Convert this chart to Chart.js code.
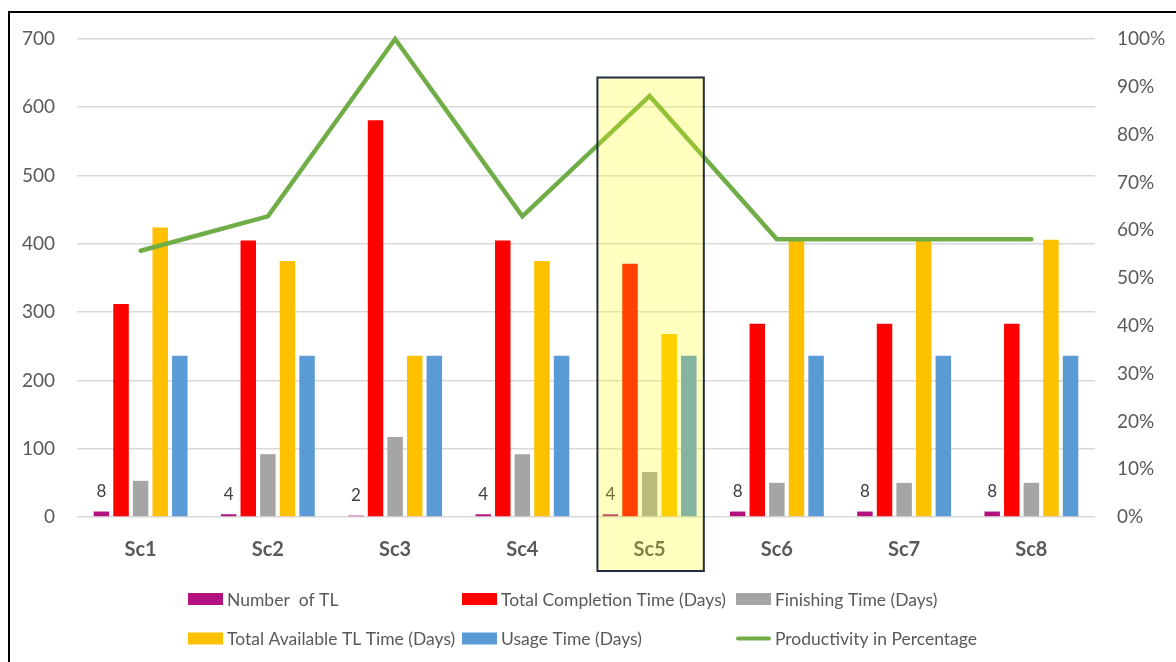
<!DOCTYPE html>
<html>
<head>
<meta charset="utf-8">
<script src="https://cdn.jsdelivr.net/npm/chart.js@4.4.1/dist/chart.umd.min.js"></script>
<style>
  html, body { margin: 0; padding: 0; background: #ffffff; overflow: hidden; }
  #wrap { position: relative; width: 1176px; height: 662px; }
  #chart { position: absolute; left: 0; top: 0; }
  /* outer frame of the chart object (only top and left edges fall inside the view) */
  #frame { position: absolute; left: 8px; top: 11px; width: 2000px; height: 2000px;
           border: 2px solid #000; pointer-events: none; }
</style>
</head>
<body>
<div id="wrap">
  <canvas id="chart" width="1176" height="662"></canvas>
  <div id="frame"></div>
</div>
<script>
// Scenario categories
const categories = ['Sc1', 'Sc2', 'Sc3', 'Sc4', 'Sc5', 'Sc6', 'Sc7', 'Sc8'];

// Series values (left axis, counts / days)
const numberOfTL      = [8, 4, 2, 4, 4, 8, 8, 8];
const totalCompletion = [312, 405, 581, 405, 371, 283, 283, 283];
const finishingTime   = [53, 92, 117, 92, 66, 50, 50, 50];
const totalAvailable  = [424, 375, 236, 375, 268, 406, 406, 406];
const usageTime       = [236, 236, 236, 236, 236, 236, 236, 236];

// Series values (right axis, percent)
const productivity    = [55.7, 62.9, 100, 62.9, 88.1, 58.1, 58.1, 58.1];

// Tick values
const countTicks   = [0, 100, 200, 300, 400, 500, 600, 700];
const percentTicks = [0, 10, 20, 30, 40, 50, 60, 70, 80, 90, 100];

// Scenario that is boxed and highlighted
const highlighted = 'Sc5';

const FONT = 'Lato, "Open Sans", "Liberation Sans", sans-serif';
const TEXT = '#595959';

// Labels above the "Number of TL" bars
const barValueLabels = {
  id: 'barValueLabels',
  afterDatasetsDraw(chart) {
    const ctx = chart.ctx;
    const meta = chart.getDatasetMeta(0);
    ctx.save();
    ctx.font = '17px ' + FONT;
    ctx.fillStyle = '#404040';
    ctx.textAlign = 'center';
    ctx.textBaseline = 'middle';
    meta.data.forEach((bar, i) => {
      ctx.fillText(String(numberOfTL[i]), bar.x, bar.y - 20);
    });
    ctx.restore();
  }
};

// Two-row legend laid out on a fixed column grid
const gridLegend = {
  id: 'gridLegend',
  afterDraw(chart, args, opts) {
    const ctx = chart.ctx;
    ctx.save();
    ctx.font = '17.5px ' + FONT;
    ctx.fillStyle = TEXT;
    ctx.textBaseline = 'middle';
    ctx.textAlign = 'left';
    chart.data.datasets.forEach((ds, i) => {
      const col = i % 3;
      const row = Math.floor(i / 3);
      const x = opts.left + col * opts.colWidth;
      const y = opts.top + row * opts.rowHeight;
      if (ds.type === 'line') {
        ctx.strokeStyle = ds.borderColor;
        ctx.lineWidth = 4;
        ctx.lineCap = 'round';
        ctx.beginPath();
        ctx.moveTo(x + 2, y);
        ctx.lineTo(x + opts.boxWidth - 2, y);
        ctx.stroke();
      } else {
        ctx.fillStyle = ds.backgroundColor;
        ctx.fillRect(x, y - opts.boxHeight / 2, opts.boxWidth, opts.boxHeight);
      }
      ctx.fillStyle = TEXT;
      ctx.fillText(ds.label, x + opts.boxWidth + 4, y + 1);
    });
    ctx.restore();
  }
};

// Translucent yellow box around one scenario
const highlightBox = {
  id: 'highlightBox',
  afterDraw(chart, args, opts) {
    const xs = chart.scales.x;
    const area = chart.chartArea;
    const idx = categories.indexOf(highlighted);
    if (idx < 0) return;
    const step = xs.width / categories.length;
    const cx = xs.getPixelForValue(idx) + 1;
    const half = step * opts.halfWidth;
    const top = area.top + opts.topOffset;
    const bottom = area.bottom + opts.bottomOffset;
    const ctx = chart.ctx;
    ctx.save();
    ctx.fillStyle = 'rgba(255, 255, 0, 0.25)';
    ctx.fillRect(cx - half, top, half * 2, bottom - top);
    ctx.strokeStyle = '#1F2B45';
    ctx.lineWidth = 2;
    ctx.strokeRect(cx - half, top, half * 2, bottom - top);
    ctx.restore();
  }
};

const barCommon = {
  type: 'bar',
  yAxisID: 'y',
  order: 1,
  categoryPercentage: 0.77,
  barPercentage: 0.79,
  borderWidth: 0
};

new Chart(document.getElementById('chart'), {
  data: {
    labels: categories,
    datasets: [
      Object.assign({}, barCommon, { label: 'Number  of TL', data: numberOfTL, backgroundColor: '#B3117F' }),
      Object.assign({}, barCommon, { label: 'Total Completion Time (Days)', data: totalCompletion, backgroundColor: '#FF0000' }),
      Object.assign({}, barCommon, { label: 'Finishing Time (Days)', data: finishingTime, backgroundColor: '#A5A5A5' }),
      Object.assign({}, barCommon, { label: 'Total Available TL Time (Days)', data: totalAvailable, backgroundColor: '#FFC000' }),
      Object.assign({}, barCommon, { label: 'Usage Time (Days)', data: usageTime, backgroundColor: '#5B9BD5' }),
      {
        type: 'line',
        label: 'Productivity in Percentage',
        data: productivity,
        yAxisID: 'y1',
        order: 0,
        borderColor: '#70AD47',
        backgroundColor: '#70AD47',
        borderWidth: 4.5,
        borderCapStyle: 'round',
        borderJoinStyle: 'miter',
        pointRadius: 0,
        tension: 0,
        clip: false
      }
    ]
  },
  options: {
    responsive: false,
    animation: false,
    devicePixelRatio: 1,
    layout: { padding: { top: 39, left: 0, right: 0, bottom: 0 } },
    plugins: {
      legend: { display: false },
      tooltip: { enabled: false },
      gridLegend: { left: 188, colWidth: 274, top: 599, rowHeight: 39.5, boxWidth: 35, boxHeight: 12 },
      highlightBox: { halfWidth: 0.418, topOffset: 38.5, bottomOffset: 54 }
    },
    scales: {
      x: {
        grid: { display: false, drawTicks: false },
        border: { display: false },
        ticks: {
          color: TEXT,
          padding: 21,
          font: { family: FONT, size: 20, weight: 'bold' }
        },
        afterFit(scale) { scale.height = 145; }
      },
      y: {
        position: 'left',
        min: 0,
        max: 700,
        afterBuildTicks(scale) { scale.ticks = countTicks.map(v => ({ value: v })); },
        grid: { color: '#D9D9D9', lineWidth: 1.6, drawTicks: false, tickLength: 0 },
        border: { display: false },
        ticks: {
          color: TEXT,
          padding: 22,
          font: { family: FONT, size: 19 }
        },
        afterFit(scale) { scale.width = 77; }
      },
      y1: {
        position: 'right',
        min: 0,
        max: 100,
        afterBuildTicks(scale) { scale.ticks = percentTicks.map(v => ({ value: v })); },
        grid: { display: false, drawTicks: false, tickLength: 0 },
        border: { display: false },
        ticks: {
          color: TEXT,
          padding: 22,
          font: { family: FONT, size: 19 },
          callback: v => v + '%'
        },
        afterFit(scale) { scale.width = 81; }
      }
    }
  },
  plugins: [barValueLabels, gridLegend, highlightBox]
});
</script>
</body>
</html>
